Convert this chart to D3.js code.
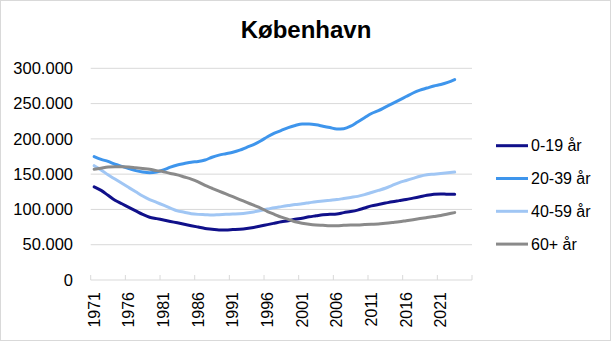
<!DOCTYPE html>
<html><head><meta charset="utf-8">
<script src="https://cdn.jsdelivr.net/npm/d3@7"></script>
<style>html,body{margin:0;padding:0;background:#fff;}</style>
</head><body>
<svg id="c" width="612" height="342"></svg>
<script>
const title = "København";
const firstYear = 1971, lastAxisYear = 2025;
const tickYears = [1971,1976,1981,1986,1991,1996,2001,2006,2011,2016,2021];
const yTicks = [0,50000,100000,150000,200000,250000,300000];
const seriesNames = ["0-19 år","20-39 år","40-59 år","60+ år"];
const seriesColors = ["#10108A","#3E95EC","#A0C6F4","#8A8A8A"];
// values in thousands, 1971..2023
const age0_19 = [132,127,120,113,108,103,98,93,89,87,85,83,81,79,77,75,73,72,71,71,71.5,72,73,74.5,76.5,78.5,80.5,82.5,84,86,87.5,89.5,91,92.5,93,93.5,95.5,97,99,102,105,107,109,111,112.5,114,116,118,120,121.5,122,121.5,121.5];
const age20_39 = [175,171,168,164,161,158,155,153,152,153,156,160,163,165,167,168,170,174,177,179,181,184,188,192,197,203,208,212,216,219,221,221,220,218,216,214,214.5,218,224,230,236,240,245,250,255,260,265,269,272,275,277,280,284];
const age40_59 = [162,156,149,143,137,131,125,119,114,110,106,102,98,96,94,93,92.5,92,92.5,93,93.5,94,95,96.5,98.5,100.5,102.5,104,105.5,107,108,109.5,111,112,113,114,115.5,117,118.5,121,124,127,130,134,138,141,144,147,149,150,151,152,153];
const age60plus = [157,158.5,160,160.5,160.5,160,159,158,157,155,153.5,151,149,146,143,139,134,130,126,122,118,114,110,106,102,97,93,89,86,82.5,80.5,79,78,77.5,77,77,77.5,78,78,78.5,79,79.5,80.5,81.5,82.5,84,85.5,87,88.5,90,91.5,93.5,95.5];

const seriesValues = [age0_19, age20_39, age40_59, age60plus];
const fmt = v => v === 0 ? "0" : d3.format(",")(v).replace(/,/g, ".");

const svg = d3.select("#c");
const font = "'Liberation Sans', Arial, sans-serif";

// border
svg.append("rect").attr("x",0.5).attr("y",0.5).attr("width",610).attr("height",340)
  .attr("fill","#fff").attr("stroke","#d9d9d9");

svg.append("text").attr("x",306).attr("y",38).attr("text-anchor","middle")
  .attr("font-family",font).attr("font-weight","bold").attr("font-size",24).attr("fill","#000").text(title);

const years = d3.range(firstYear, lastAxisYear + 1);
const x = d3.scaleBand().domain(years).range([90.7, 472]).padding(0);
const y = d3.scaleLinear().domain([0,300000]).range([280, 68.3]);

// gridlines
svg.append("g").selectAll("line").data(yTicks.filter(d=>d>0)).join("line")
  .attr("x1",90.7).attr("x2",472).attr("y1",d=>y(d)).attr("y2",d=>y(d))
  .attr("stroke","#d9d9d9").attr("stroke-width",1);

// y labels
svg.append("g").selectAll("text").data(yTicks).join("text")
  .attr("x",73).attr("y",d=>y(d)).attr("dy","0.35em").attr("text-anchor","end")
  .attr("font-family",font).attr("font-size",16.5).attr("fill","#000").text(fmt);

// x axis
svg.append("line").attr("x1",90.7).attr("x2",472).attr("y1",280).attr("y2",280).attr("stroke","#d9d9d9");
const tickPos = tickYears.map(t => x(t)).concat([x.range()[1]]);
svg.append("g").selectAll("line").data(tickPos).join("line")
  .attr("x1",d=>d).attr("x2",d=>d).attr("y1",275).attr("y2",280).attr("stroke","#d9d9d9");
svg.append("g").selectAll("text").data(tickYears).join("text")
  .attr("transform",d=>`translate(${x(d)+x.bandwidth()/2},292) rotate(-90)`)
  .attr("dy","0.35em").attr("text-anchor","end")
  .attr("font-family",font).attr("font-size",16).attr("fill","#000").text(d=>d);

// lines
const line = d3.line().x((d,i)=>x(firstYear+i)+x.bandwidth()/2).y(d=>y(d*1000)).curve(d3.curveMonotoneX);
seriesValues.forEach((vals,k)=>{
  svg.append("path").datum(vals).attr("d",line).attr("fill","none")
    .attr("stroke",seriesColors[k]).attr("stroke-width",3).attr("stroke-linejoin","round").attr("stroke-linecap","round");
});

// legend
const lg = svg.append("g");
seriesNames.forEach((n,k)=>{
  const ly = 145.7 + k*32.8;
  lg.append("line").attr("x1",496).attr("x2",528).attr("y1",ly).attr("y2",ly)
    .attr("stroke",seriesColors[k]).attr("stroke-width",3);
  lg.append("text").attr("x",531).attr("y",ly).attr("dy","0.35em")
    .attr("font-family",font).attr("font-size",16).attr("fill","#000").text(n);
});
</script>
</body></html>
